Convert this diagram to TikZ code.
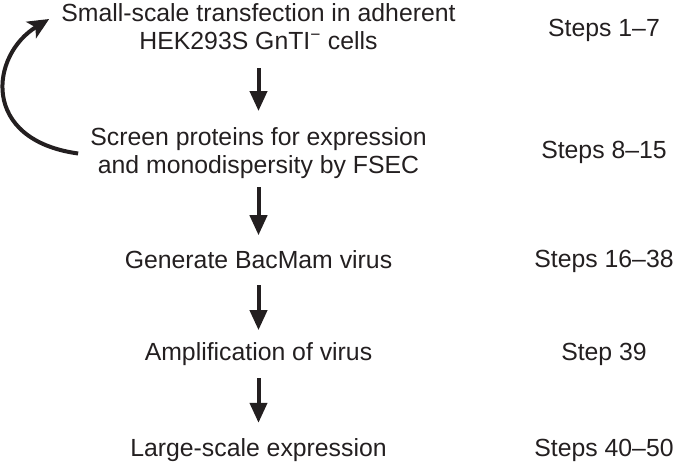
\documentclass[tikz,border=0pt]{standalone}
\usepackage{fontspec}
\setmainfont{Liberation Sans}
\usetikzlibrary{arrows.meta}
\definecolor{ink}{RGB}{35,31,32}

\begin{document}
\begin{tikzpicture}[x=1pt,y=-1pt,ink,
    every node/.style={font=\fontsize{24.8}{28}\selectfont,inner sep=0pt,text=ink},
    flow/.style={-{Triangle[length=20pt,width=17pt]},line width=4pt},
    loop back/.style={-{Stealth[length=21pt,width=19pt,inset=5pt]},line width=4pt}]
    \useasboundingbox (0,0) rectangle (675,462);

    \node[align=center] (1) at (258.5,27) {Small-scale transfection in adherent\\HEK293S GnTI\textsuperscript{−} cells};
    \node[align=center] (2) at (258.5,153.5) {Screen proteins for expression\\and monodispersity by FSEC};
    \node[anchor=base] (3) at (258.5,269) {Generate BacMam virus};
    \node[anchor=base] (4) at (258.5,361) {Amplification of virus};
    \node[anchor=base] (5) at (258.5,456) {Large-scale expression};

    \node[anchor=base] (s1) at (604,37) {Steps 1–7};
    \node[anchor=base] (s2) at (604,159) {Steps 8–15};
    \node[anchor=base] (s3) at (604,268) {Steps 16–38};
    \node[anchor=base] (s4) at (604,361) {Step 39};
    \node[anchor=base] (s5) at (604,456) {Steps 40–50};

    \draw[flow,shorten <=18pt,shorten >=16.7pt] (1) -- (2);
    \draw[flow,shorten <=8pt,shorten >=15.6pt] (2) -- (3);
    \draw[flow,shorten <=16pt,shorten >=12.7pt] (3) -- (4);
    \draw[flow,shorten <=11.7pt,shorten >=15pt] (4) -- (5);

    % back to the transfection step
    \draw[loop back] ([xshift=-12pt]2.west) .. controls (-20,140) and (-10,55) .. ([xshift=-12pt,yshift=8pt]1.west);
  \end{tikzpicture}
\end{document}
